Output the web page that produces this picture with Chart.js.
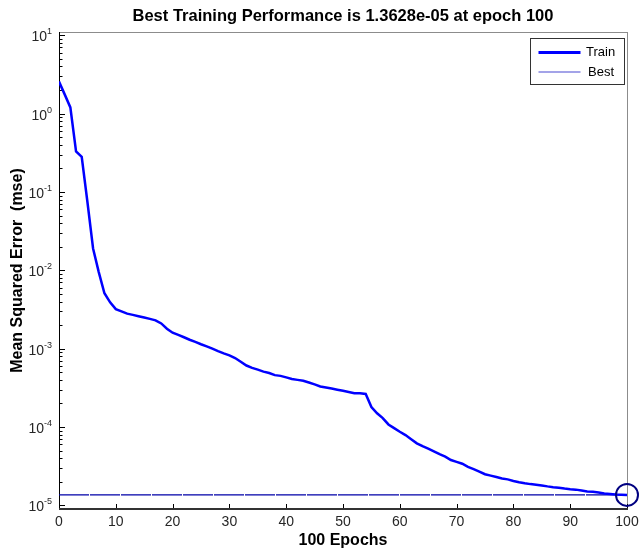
<!DOCTYPE html>
<html>
<head>
<meta charset="utf-8">
<title>Best Training Performance</title>
<script src="https://cdn.jsdelivr.net/npm/chart.js@4.4.0/dist/chart.umd.min.js"></script>
<style>
  html, body { margin: 0; padding: 0; background: #fff; }
  canvas { display: block; }
</style>
</head>
<body>
<canvas id="perfChart" width="640" height="554"></canvas>
<script>
// training epochs 0..100
const epochs = [
  0, 1, 2, 3, 4, 5, 6, 7, 8, 9, 10, 11, 12, 13, 14, 15, 16, 17, 18, 19,
  20, 21, 22, 23, 24, 25, 26, 27, 28, 29, 30, 31, 32, 33, 34, 35, 36, 37, 38, 39,
  40, 41, 42, 43, 44, 45, 46, 47, 48, 49, 50, 51, 52, 53, 54, 55, 56, 57, 58, 59,
  60, 61, 62, 63, 64, 65, 66, 67, 68, 69, 70, 71, 72, 73, 74, 75, 76, 77, 78, 79,
  80, 81, 82, 83, 84, 85, 86, 87, 88, 89, 90, 91, 92, 93, 94, 95, 96, 97, 98, 99, 100
];

// mean squared error on the training set, one per epoch
const trainMse = [
  2.56, 1.76, 1.2, 0.33, 0.28, 0.075, 0.019, 0.0095, 0.0051, 0.0039,
  0.0032, 0.0030, 0.0028, 0.0027, 0.0026, 0.0025, 0.0024, 0.0023, 0.0021, 0.0018,
  0.0016, 0.0015, 0.0014, 0.0013, 0.00122, 0.00114, 0.00107, 0.00100, 0.00093, 0.00087,
  0.00082, 0.00076, 0.00068, 0.00061, 0.00057, 0.00054, 0.00051, 0.00049, 0.00046, 0.00045,
  0.00043, 0.00041, 0.00040, 0.00039, 0.00037, 0.00035, 0.00033, 0.00032, 0.00031, 0.00030,
  0.00029, 0.00028, 0.00027, 0.000270, 0.000265, 0.00018, 0.00015, 0.00013, 0.000108, 0.000097,
  0.000087, 0.000079, 0.000070, 0.000062, 0.000057, 0.000053, 0.000049, 0.000045, 0.000042, 0.000038,
  0.000036, 0.000034, 0.000031, 0.000029, 0.000027, 0.000025, 0.000024, 0.000023, 0.000022, 0.0000215,
  0.0000205, 0.0000198, 0.0000192, 0.0000187, 0.0000184, 0.0000180, 0.0000175, 0.0000171, 0.0000168, 0.0000164,
  0.0000161, 0.0000159, 0.0000155, 0.0000151, 0.0000149, 0.0000146, 0.0000142, 0.0000140, 0.0000138, 0.0000137,
  0.000013628
];

const bestEpoch = 100;
const bestMse = 1.3628e-5;

// axis ticks
const xTicks = [0, 10, 20, 30, 40, 50, 60, 70, 80, 90, 100];
const yExponents = [1, 0, -1, -2, -3, -4, -5];
const yMin = 0.9e-5;
const yMax = 11;

const FONT = '"Liberation Sans", Arial, Helvetica, sans-serif';

const trainPoints = epochs.map((e, i) => ({ x: e, y: trainMse[i] }));
const bestPoints = [{ x: xTicks[0], y: bestMse }, { x: xTicks[xTicks.length - 1], y: bestMse }];

// axes box, log ticks, title and legend drawn in the old plotting style
const perfAxes = {
  id: 'perfAxes',
  beforeDatasetsDraw(chart) {
    const { ctx, chartArea: a, scales: { x, y } } = chart;
    ctx.save();
    // top and right edges of the box
    ctx.strokeStyle = '#8c8c8c';
    ctx.lineWidth = 1;
    ctx.beginPath();
    ctx.moveTo(a.left, a.top + 0.5);
    ctx.lineTo(a.right, a.top + 0.5);
    ctx.moveTo(a.right + 0.5, a.top);
    ctx.lineTo(a.right + 0.5, a.bottom);
    ctx.stroke();

    // left axis
    ctx.strokeStyle = '#000';
    ctx.beginPath();
    ctx.moveTo(a.left + 0.5, a.top);
    ctx.lineTo(a.left + 0.5, a.bottom);
    ctx.stroke();

    // y ticks, pointing inward
    ctx.beginPath();
    for (let e = -6; e <= 1; e++) {
      for (let m = 1; m <= 9; m++) {
        const v = m * Math.pow(10, e);
        if (v < y.min || v > y.max) continue;
        const py = Math.round(y.getPixelForValue(v)) + 0.5;
        const len = m === 1 ? 6 : 3.5;
        ctx.moveTo(a.left, py);
        ctx.lineTo(a.left + len, py);
      }
    }
    ctx.stroke();

    // x ticks, pointing up
    ctx.beginPath();
    xTicks.forEach(t => {
      const px = Math.round(x.getPixelForValue(t)) + 0.5;
      ctx.moveTo(px, a.bottom);
      ctx.lineTo(px, a.bottom - 5);
    });
    ctx.stroke();

    // bottom axis
    ctx.strokeStyle = '#333';
    ctx.lineWidth = 2;
    ctx.beginPath();
    ctx.moveTo(a.left, a.bottom);
    ctx.lineTo(a.right + 1, a.bottom);
    ctx.stroke();
    ctx.restore();
  },
  afterDraw(chart) {
    const { ctx, chartArea: a, scales: { y } } = chart;
    ctx.save();

    // title
    ctx.fillStyle = '#000';
    ctx.font = 'bold 16.5px ' + FONT;
    ctx.textAlign = 'center';
    ctx.textBaseline = 'alphabetic';
    ctx.fillText('Best Training Performance is 1.3628e-05 at epoch 100', (a.left + a.right) / 2, 20.5);

    // y tick labels as 10 with a raised exponent
    ctx.fillStyle = '#262626';
    yExponents.forEach(e => {
      const py = y.getPixelForValue(Math.pow(10, e));
      const expText = String(e);
      ctx.font = '9px ' + FONT;
      const expW = ctx.measureText(expText).width;
      ctx.font = '14px ' + FONT;
      const baseW = ctx.measureText('10').width;
      const right = 52;
      ctx.textAlign = 'left';
      ctx.textBaseline = 'alphabetic';
      ctx.fillText('10', right - expW - baseW, py + 6);
      ctx.font = '9px ' + FONT;
      ctx.fillText(expText, right - expW, py - 1);
    });

    // legend
    const lx = a.right - 96.5, ly = a.top + 6.5, lw = 94, lh = 46;
    ctx.fillStyle = '#fff';
    ctx.fillRect(lx, ly, lw, lh);
    ctx.strokeStyle = '#333';
    ctx.lineWidth = 1;
    ctx.strokeRect(lx, ly, lw, lh);

    ctx.strokeStyle = '#0000ff';
    ctx.lineWidth = 3;
    ctx.beginPath();
    ctx.moveTo(lx + 8, ly + 14);
    ctx.lineTo(lx + 50, ly + 14);
    ctx.stroke();

    ctx.strokeStyle = '#8585e0';
    ctx.lineWidth = 1.5;
    ctx.beginPath();
    ctx.moveTo(lx + 8, ly + 33.5);
    ctx.lineTo(lx + 50, ly + 33.5);
    ctx.stroke();

    ctx.fillStyle = '#000';
    ctx.font = '13px ' + FONT;
    ctx.textAlign = 'left';
    ctx.textBaseline = 'middle';
    ctx.fillText('Train', lx + 55.5, ly + 14);
    ctx.fillText('Best', lx + 57.5, ly + 33.5);
    ctx.restore();
  }
};

new Chart(document.getElementById('perfChart'), {
  type: 'line',
  data: {
    datasets: [
      {
        label: 'Best point',
        data: [{ x: bestEpoch, y: bestMse }],
        showLine: false,
        pointRadius: 11,
        pointBorderWidth: 2,
        pointBorderColor: '#000080',
        pointBackgroundColor: 'rgba(0,0,0,0)',
        clip: false
      },
      {
        label: 'Train',
        data: trainPoints,
        borderColor: '#0000ff',
        borderWidth: 2.5,
        pointRadius: 0,
        tension: 0,
        fill: false
      },
      {
        label: 'Best',
        data: bestPoints,
        borderColor: '#0000a8',
        borderWidth: 1.3,
        borderDash: [30, 1],
        pointRadius: 0,
        fill: false
      }
    ]
  },
  options: {
    responsive: false,
    animation: false,
    events: [],
    layout: { padding: { top: 32, right: 12, left: 0, bottom: 0 } },
    plugins: {
      legend: { display: false },
      tooltip: { enabled: false },
      title: { display: false }
    },
    scales: {
      x: {
        type: 'linear',
        min: 0,
        max: 100,
        afterBuildTicks(scale) { scale.ticks = xTicks.map(v => ({ value: v })); },
        ticks: { color: '#262626', font: { family: FONT, size: 14 }, padding: 5, maxRotation: 0, autoSkip: false },
        grid: { display: false, drawTicks: false },
        border: { display: false },
        title: {
          display: true,
          text: '100 Epochs',
          color: '#000',
          font: { family: FONT, size: 16, weight: 'bold' },
          padding: { top: 0, bottom: 4 }
        },
        afterFit(scale) {
          scale.height = 45;
          // let the end labels overhang the plot box
          scale.paddingLeft = 0;
          scale.paddingRight = 0;
        }
      },
      y: {
        type: 'logarithmic',
        min: yMin,
        max: yMax,
        ticks: { display: false },
        grid: { display: false, drawTicks: false },
        border: { display: false },
        title: {
          display: true,
          text: 'Mean Squared Error  (mse)',
          color: '#000',
          font: { family: FONT, size: 16, weight: 'bold' },
          padding: { top: 8, bottom: 0 }
        },
        afterFit(scale) { scale.width = 59; }
      }
    }
  },
  plugins: [perfAxes]
});
</script>
</body>
</html>
